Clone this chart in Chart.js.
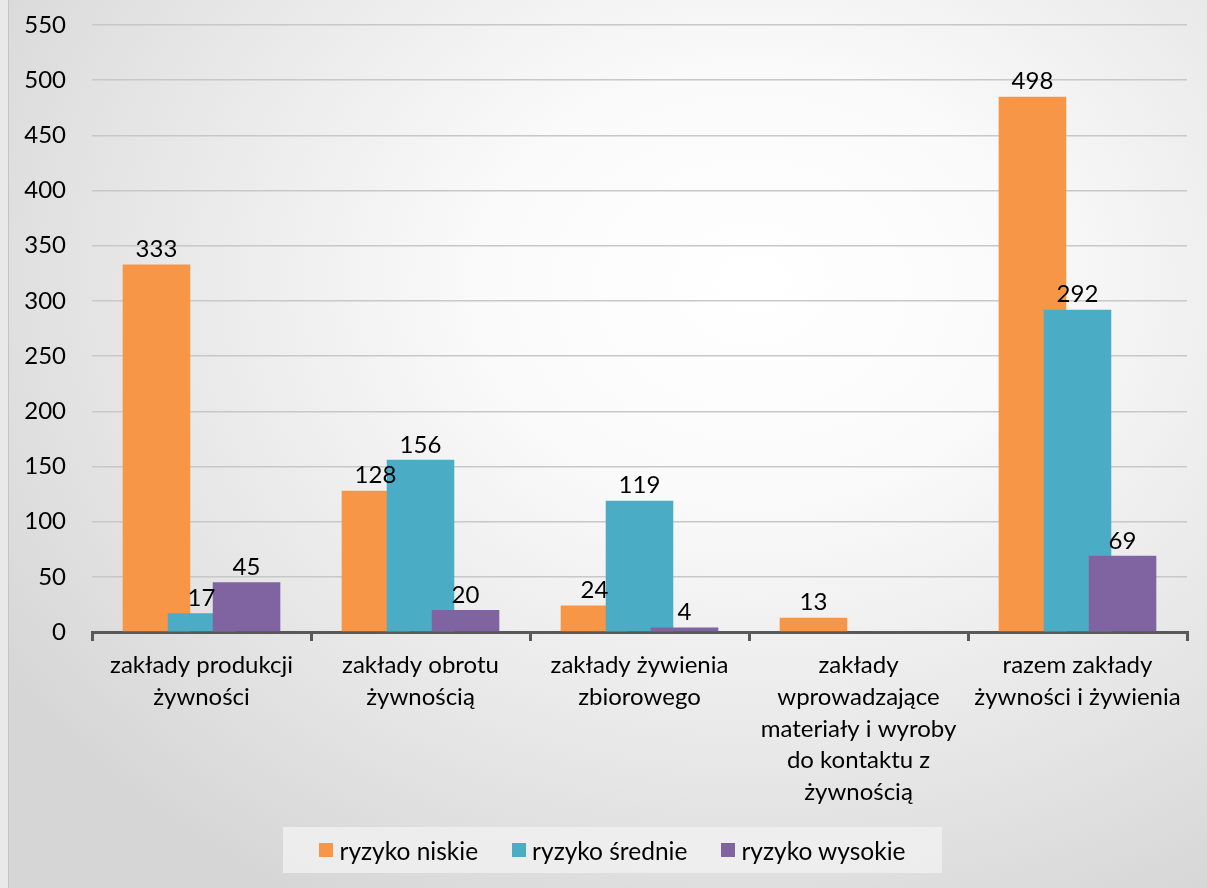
<!DOCTYPE html>
<html lang="pl">
<head>
<meta charset="UTF-8">
<title>Zakłady wg kategorii ryzyka</title>
<script src="https://cdn.jsdelivr.net/npm/chart.js"></script>
<style>
    body { margin: 0; font-family: Lato, "Open Sans", sans-serif; }
    .frame {
        position: relative;
        width: 1207px;
        height: 888px;
        background: #e9e9e9;
        overflow: hidden;
    }
    .panel {
        position: absolute;
        left: 8px; top: 0; right: 0; bottom: 0;
        border-left: 1px solid #c4c4c4;
        background: radial-gradient(ellipse 75% 80% at 62% 32%, #ffffff 0%, #fafafa 30%, #e6e6e6 70%, #d6d6d6 100%);
    }
    canvas { position: absolute; left: 0; top: 0; }
    .legend {
        position: absolute;
        left: 283px; top: 827px;
        width: 659px; height: 46px;
        background: rgba(240, 240, 240, 0.85);
        display: flex;
        align-items: center;
        justify-content: center;
        gap: 34px;
        font-size: 24.5px;
        color: #000;
    }
    .legend span.item { display: inline-flex; align-items: center; }
    .legend i { display: inline-block; width: 14px; height: 14px; margin-right: 6px; }
</style>
</head>
<body>
<div class="frame">
    <div class="panel"></div>
    <canvas id="myChart" width="1207" height="888"></canvas>
    <div class="legend" id="legend"></div>
</div>

<script>
    const categories = [
        ['zakłady produkcji', 'żywności'],
        ['zakłady obrotu', 'żywnością'],
        ['zakłady żywienia', 'zbiorowego'],
        ['zakłady', 'wprowadzające', 'materiały i wyroby', 'do kontaktu z', 'żywnością'],
        ['razem zakłady', 'żywności i żywienia']
    ];
    const seriesNames = ['ryzyko niskie', 'ryzyko średnie', 'ryzyko wysokie'];
    // bar heights as drawn; the printed labels are kept separately (last orange bar is labelled 498)
    const lowRisk = [333, 128, 24, 13, 485];
    const lowRiskLabels = ['333', '128', '24', '13', '498'];
    const mediumRisk = [17, 156, 119, null, 292];
    const mediumRiskLabels = ['17', '156', '119', '', '292'];
    const highRisk = [45, 20, 4, null, 69];
    const highRiskLabels = ['45', '20', '4', '', '69'];
    const yTicks = [0, 50, 100, 150, 200, 250, 300, 350, 400, 450, 500, 550];

    const colors = ['#F79646', '#4BACC6', '#8064A2'];
    const FONT = 'Lato, "Open Sans", sans-serif';

    // draw datasets left-to-right so the next bar covers the previous one, then the value labels
    const overlapPlugin = {
        id: 'overlapPlugin',
        beforeDatasetsDraw(chart) {
            chart.data.datasets.forEach((ds, i) => {
                const meta = chart.getDatasetMeta(i);
                if (!meta.hidden) meta.controller.draw();
            });
            return false;
        },
        afterDraw(chart) {
            const ctx = chart.ctx;
            ctx.save();
            ctx.font = '24px ' + FONT;
            ctx.fillStyle = '#000';
            ctx.textAlign = 'center';
            ctx.textBaseline = 'bottom';
            chart.data.datasets.forEach((ds, i) => {
                const meta = chart.getDatasetMeta(i);
                meta.data.forEach((bar, j) => {
                    if (ds.data[j] == null) return;
                    ctx.fillText(ds.valueLabels[j], bar.x, bar.y - 3);
                });
            });
            ctx.restore();
        }
    };

    const ctx = document.getElementById('myChart').getContext('2d');
    new Chart(ctx, {
        type: 'bar',
        data: {
            labels: categories,
            datasets: [
                { label: seriesNames[0], data: lowRisk, valueLabels: lowRiskLabels, backgroundColor: colors[0] },
                { label: seriesNames[1], data: mediumRisk, valueLabels: mediumRiskLabels, backgroundColor: colors[1] },
                { label: seriesNames[2], data: highRisk, valueLabels: highRiskLabels, backgroundColor: colors[2] }
            ]
        },
        options: {
            responsive: false,
            animation: false,
            categoryPercentage: 0.617,
            barPercentage: 1.5,
            layout: { padding: { top: 25, right: 20, left: 0, bottom: 0 } },
            scales: {
                x: {
                    offset: true,
                    grid: {
                        offset: true,
                        drawOnChartArea: false,
                        drawTicks: true,
                        tickLength: 9,
                        color: '#595959',
                        lineWidth: 3
                    },
                    border: { color: '#595959', width: 3 },
                    ticks: {
                        color: '#000',
                        font: { family: FONT, size: 24, lineHeight: 1.33 },
                        padding: 8,
                        maxRotation: 0,
                        autoSkip: false
                    },
                    afterFit(scale) {
                        scale.height = 256;
                        scale.paddingLeft = 0;
                        scale.paddingRight = 0;
                    }
                },
                y: {
                    min: 0,
                    max: 550,
                    afterBuildTicks(scale) { scale.ticks = yTicks.map(v => ({ value: v })); },
                    grid: { color: '#c8c8c8', lineWidth: 1.5, drawTicks: false },
                    border: { display: false },
                    ticks: {
                        color: '#000',
                        font: { family: FONT, size: 24 },
                        padding: 26
                    },
                    afterFit(scale) {
                        scale.width = 92;
                        scale.paddingTop = 0;
                        scale.paddingBottom = 0;
                    }
                }
            },
            plugins: {
                legend: { display: false },
                tooltip: { enabled: false }
            }
        },
        plugins: [overlapPlugin]
    });

    const legendEl = document.getElementById('legend');
    seriesNames.forEach((name, i) => {
        const item = document.createElement('span');
        item.className = 'item';
        item.innerHTML = '<i style="background:' + colors[i] + '"></i>' + name;
        legendEl.appendChild(item);
    });
</script>
</body>
</html>
